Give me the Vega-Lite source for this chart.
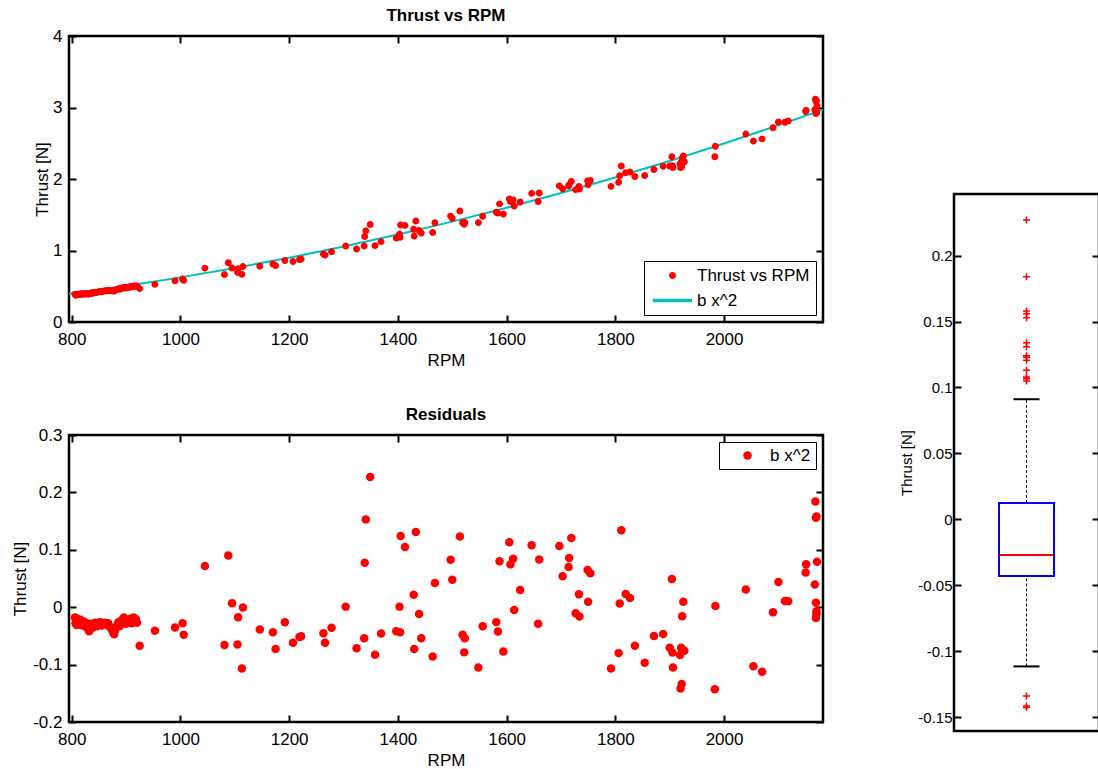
{
  "$schema": "https://vega.github.io/schema/vega-lite/v6.json",
  "background": "white",
  "padding": {"left": 10, "top": 5, "right": 0, "bottom": 0},
  "config": {
    "font": "Liberation Sans",
    "view": {"stroke": "black", "strokeWidth": 2.5},
    "axis": {"domain": false, "grid": false, "tickColor": "black", "tickWidth": 2, "tickSize": -7, "labelFontSize": 17, "labelColor": "black", "labelPadding": 16, "titleFontSize": 17, "titleFontWeight": "normal", "titleColor": "black", "titlePadding": 5},
    "title": {"fontSize": 17, "fontWeight": "bold", "color": "black", "anchor": "middle", "baseline": "alphabetic", "offset": 2},
    "legend": {"strokeColor": "black", "fillColor": "white", "labelFontSize": 17, "labelColor": "black", "cornerRadius": 0}
  },
  "datasets": {
    "pts": [
      {"rpm":806,"thrust":0.387,"res":-0.018},{"rpm":807,"thrust":0.378,"res":-0.028},{"rpm":808,"thrust":0.385,"res":-0.022},{"rpm":809,"thrust":0.377,"res":-0.031},{"rpm":810,"thrust":0.389,"res":-0.020},{"rpm":812,"thrust":0.385,"res":-0.026},{"rpm":814,"thrust":0.384,"res":-0.030},{"rpm":816,"thrust":0.394,"res":-0.022},{"rpm":818,"thrust":0.391,"res":-0.027},{"rpm":820,"thrust":0.388,"res":-0.032},{"rpm":822,"thrust":0.397,"res":-0.025},{"rpm":824,"thrust":0.394,"res":-0.030},{"rpm":826,"thrust":0.392,"res":-0.034},{"rpm":828,"thrust":0.400,"res":-0.028},{"rpm":830,"thrust":0.392,"res":-0.038},{"rpm":832,"thrust":0.390,"res":-0.042},{"rpm":834,"thrust":0.401,"res":-0.033},{"rpm":836,"thrust":0.407,"res":-0.029},{"rpm":838,"thrust":0.402,"res":-0.036},{"rpm":840,"thrust":0.409,"res":-0.031},{"rpm":843,"thrust":0.416,"res":-0.027},{"rpm":846,"thrust":0.414,"res":-0.033},{"rpm":849,"thrust":0.420,"res":-0.030},{"rpm":852,"thrust":0.427,"res":-0.026},{"rpm":855,"thrust":0.424,"res":-0.032},{"rpm":858,"thrust":0.430,"res":-0.029},{"rpm":861,"thrust":0.436,"res":-0.027},{"rpm":864,"thrust":0.435,"res":-0.031},{"rpm":867,"thrust":0.441,"res":-0.028},{"rpm":870,"thrust":0.438,"res":-0.034},{"rpm":873,"thrust":0.438,"res":-0.038},{"rpm":876,"thrust":0.435,"res":-0.044},{"rpm":878,"thrust":0.434,"res":-0.047},{"rpm":880,"thrust":0.443,"res":-0.040},{"rpm":882,"thrust":0.450,"res":-0.035},{"rpm":884,"thrust":0.458,"res":-0.030},{"rpm":886,"thrust":0.464,"res":-0.026},{"rpm":888,"thrust":0.459,"res":-0.033},{"rpm":890,"thrust":0.470,"res":-0.024},{"rpm":892,"thrust":0.469,"res":-0.028},{"rpm":894,"thrust":0.478,"res":-0.021},{"rpm":896,"thrust":0.483,"res":-0.018},{"rpm":898,"thrust":0.478,"res":-0.025},{"rpm":900,"thrust":0.476,"res":-0.029},{"rpm":902,"thrust":0.486,"res":-0.022},{"rpm":904,"thrust":0.483,"res":-0.027},{"rpm":906,"thrust":0.488,"res":-0.024},{"rpm":908,"thrust":0.495,"res":-0.020},{"rpm":910,"thrust":0.489,"res":-0.028},{"rpm":912,"thrust":0.496,"res":-0.023},{"rpm":914,"thrust":0.503,"res":-0.018},{"rpm":916,"thrust":0.499,"res":-0.025},{"rpm":918,"thrust":0.505,"res":-0.021},{"rpm":920,"thrust":0.501,"res":-0.027},
      {"rpm":925,"thrust":0.467,"res":-0.067},{"rpm":953,"thrust":0.526,"res":-0.041},{"rpm":990,"thrust":0.576,"res":-0.0355},{"rpm":1004,"thrust":0.601,"res":-0.028},{"rpm":1006,"thrust":0.584,"res":-0.048},{"rpm":1045,"thrust":0.753,"res":0.0717},{"rpm":1088,"thrust":0.829,"res":0.090},{"rpm":1095,"thrust":0.755,"res":0.007},{"rpm":1115,"thrust":0.775,"res":-0.0006},{"rpm":1106,"thrust":0.746,"res":-0.0175},{"rpm":1081,"thrust":0.663,"res":-0.066},{"rpm":1105,"thrust":0.697,"res":-0.065},{"rpm":1113,"thrust":0.666,"res":-0.107},{"rpm":1146,"thrust":0.781,"res":-0.039},{"rpm":1170,"thrust":0.810,"res":-0.0437},{"rpm":1192,"thrust":0.860,"res":-0.0262},{"rpm":1175,"thrust":0.789,"res":-0.073},{"rpm":1207,"thrust":0.847,"res":-0.062},{"rpm":1219,"thrust":0.875,"res":-0.052},{"rpm":1222,"thrust":0.881,"res":-0.0507},{"rpm":1263,"thrust":0.950,"res":-0.0455},{"rpm":1278,"thrust":0.983,"res":-0.036},{"rpm":1266,"thrust":0.938,"res":-0.062},{"rpm":1304,"thrust":1.062,"res":0.001},{"rpm":1341,"thrust":1.275,"res":0.153},{"rpm":1349,"thrust":1.363,"res":0.227},{"rpm":1339,"thrust":1.196,"res":0.0775},{"rpm":1324,"thrust":1.022,"res":-0.0717},{"rpm":1338,"thrust":1.063,"res":-0.054},{"rpm":1358,"thrust":1.068,"res":-0.083},{"rpm":1369,"thrust":1.124,"res":-0.046},{"rpm":1397,"thrust":1.176,"res":-0.042},{"rpm":1404,"thrust":1.186,"res":-0.0437},{"rpm":1405,"thrust":1.356,"res":0.124},{"rpm":1413,"thrust":1.351,"res":0.105},{"rpm":1433,"thrust":1.412,"res":0.131},{"rpm":1403,"thrust":1.229,"res":0.001},{"rpm":1429,"thrust":1.296,"res":0.0216},{"rpm":1439,"thrust":1.280,"res":-0.0117},{"rpm":1443,"thrust":1.245,"res":-0.054},{"rpm":1430,"thrust":1.203,"res":-0.073},{"rpm":1464,"thrust":1.251,"res":-0.086},{"rpm":1468,"thrust":1.387,"res":0.042},{"rpm":1514,"thrust":1.553,"res":0.123},{"rpm":1497,"thrust":1.481,"res":0.0828},{"rpm":1500,"thrust":1.452,"res":0.0478},{"rpm":1519,"thrust":1.392,"res":-0.048},{"rpm":1523,"thrust":1.393,"res":-0.054},{"rpm":1522,"thrust":1.367,"res":-0.0787},{"rpm":1548,"thrust":1.390,"res":-0.105},{"rpm":1556,"thrust":1.478,"res":-0.033},{"rpm":1581,"thrust":1.534,"res":-0.026},{"rpm":1584,"thrust":1.523,"res":-0.0425},{"rpm":1594,"thrust":1.509,"res":-0.077},{"rpm":1587,"thrust":1.652,"res":0.080},{"rpm":1605,"thrust":1.720,"res":0.113},{"rpm":1612,"thrust":1.706,"res":0.0845},{"rpm":1607,"thrust":1.686,"res":0.0746},{"rpm":1625,"thrust":1.678,"res":0.030},{"rpm":1614,"thrust":1.621,"res":-0.005},{"rpm":1646,"thrust":1.799,"res":0.108},{"rpm":1660,"thrust":1.803,"res":0.083},{"rpm":1658,"thrust":1.686,"res":-0.029},{"rpm":1697,"thrust":1.904,"res":0.1066},{"rpm":1719,"thrust":1.965,"res":0.1206},{"rpm":1715,"thrust":1.921,"res":0.0857},{"rpm":1714,"thrust":1.903,"res":0.070},{"rpm":1703,"thrust":1.864,"res":0.054},{"rpm":1749,"thrust":1.974,"res":0.065},{"rpm":1754,"thrust":1.979,"res":0.059},{"rpm":1733,"thrust":1.897,"res":0.0227},{"rpm":1750,"thrust":1.920,"res":0.0093},{"rpm":1727,"thrust":1.851,"res":-0.0105},{"rpm":1734,"thrust":1.860,"res":-0.0163},{"rpm":1811,"thrust":2.181,"res":0.134},{"rpm":1808,"thrust":2.046,"res":0.0064},{"rpm":1819,"thrust":2.088,"res":0.023},{"rpm":1827,"thrust":2.099,"res":0.016},{"rpm":1806,"thrust":1.955,"res":-0.080},{"rpm":1792,"thrust":1.897,"res":-0.1066},{"rpm":1836,"thrust":2.036,"res":-0.067},{"rpm":1854,"thrust":2.048,"res":-0.0967},{"rpm":1871,"thrust":2.134,"res":-0.050},{"rpm":1888,"thrust":2.178,"res":-0.0466},{"rpm":1904,"thrust":2.311,"res":0.049},{"rpm":1900,"thrust":2.182,"res":-0.0705},{"rpm":1905,"thrust":2.186,"res":-0.079},{"rpm":1906,"thrust":2.162,"res":-0.105},{"rpm":1921,"thrust":2.232,"res":-0.0705},{"rpm":1927,"thrust":2.241,"res":-0.0758},{"rpm":1919,"thrust":2.215,"res":-0.0833},{"rpm":1925,"thrust":2.322,"res":0.0093},{"rpm":1923,"thrust":2.292,"res":-0.0157},{"rpm":1922,"thrust":2.171,"res":-0.134},{"rpm":1920,"thrust":2.159,"res":-0.1416},{"rpm":1984,"thrust":2.459,"res":0.0023},{"rpm":1983,"thrust":2.311,"res":-0.1428},{"rpm":2040,"thrust":2.628,"res":0.031},{"rpm":2054,"thrust":2.530,"res":-0.103},{"rpm":2070,"thrust":2.561,"res":-0.1125},{"rpm":2090,"thrust":2.717,"res":-0.0087},{"rpm":2100,"thrust":2.796,"res":0.0437},{"rpm":2112,"thrust":2.794,"res":0.011},{"rpm":2118,"thrust":2.810,"res":0.0105},{"rpm":2151,"thrust":2.962,"res":0.075},{"rpm":2150,"thrust":2.945,"res":0.0606},{"rpm":2168,"thrust":3.117,"res":0.184},{"rpm":2170,"thrust":3.096,"res":0.158},{"rpm":2169,"thrust":3.092,"res":0.156},{"rpm":2171,"thrust":3.020,"res":0.079},{"rpm":2167,"thrust":2.970,"res":0.0396},{"rpm":2169,"thrust":2.943,"res":0.0076},{"rpm":2170,"thrust":2.931,"res":-0.007},{"rpm":2169,"thrust":2.917,"res":-0.0186},{"rpm":2170,"thrust":2.927,"res":-0.0117}
    ],
    "fit": [
      {"rpm":795,"fit":0.3944},{"rpm":850,"fit":0.4508},{"rpm":900,"fit":0.5054},{"rpm":950,"fit":0.5632},{"rpm":1000,"fit":0.624},{"rpm":1100,"fit":0.755},{"rpm":1200,"fit":0.8986},{"rpm":1300,"fit":1.0546},{"rpm":1400,"fit":1.223},{"rpm":1500,"fit":1.404},{"rpm":1600,"fit":1.5974},{"rpm":1700,"fit":1.8034},{"rpm":1800,"fit":2.0218},{"rpm":1900,"fit":2.2526},{"rpm":2000,"fit":2.496},{"rpm":2100,"fit":2.7518},{"rpm":2182,"fit":2.9709}
    ],
    "box": [
      {"group":"1","lo":-0.1116,"q1":-0.043,"median":-0.0271,"q3":0.0124,"hi":0.0911}
    ]
  },
  "resolve": {"scale": {"x": "independent", "y": "independent", "color": "independent", "shape": "independent", "stroke": "independent"}, "legend": {"color": "independent", "shape": "independent", "stroke": "independent"}},
  "spacing": 69,
  "hconcat": [
    {
      "resolve": {"scale": {"x": "independent", "y": "independent", "color": "independent", "shape": "independent", "stroke": "independent"}, "legend": {"color": "independent", "shape": "independent", "stroke": "independent"}},
      "spacing": 34,
      "vconcat": [
        {
          "title": {"text": "Thrust vs RPM"},
          "width": 754,
          "height": 286,
          "resolve": {"axis": {"x": "independent", "y": "independent"}},
          "layer": [
            {
              "data": {"name": "fit"},
              "mark": {"type": "line", "color": "#00bfbf", "strokeWidth": 2, "interpolate": "monotone"},
              "encoding": {
                "x": {"field": "rpm", "type": "quantitative", "scale": {"domain": [795, 2182], "nice": false, "zero": false},
                      "axis": {"orient": "top", "values": [800, 1000, 1200, 1400, 1600, 1800, 2000], "labels": false, "title": null}},
                "y": {"field": "fit", "type": "quantitative", "scale": {"domain": [0, 4], "nice": false},
                      "axis": {"orient": "right", "values": [0, 1, 2, 3, 4], "labels": false, "title": null}}
              }
            },
            {
              "data": {"name": "pts"},
              "mark": {"type": "point", "filled": false, "strokeWidth": 3.5, "opacity": 1, "size": 12},
              "encoding": {
                "x": {"field": "rpm", "type": "quantitative",
                      "axis": {"orient": "bottom", "values": [800, 1000, 1200, 1400, 1600, 1800, 2000], "format": "d", "title": "RPM"}},
                "y": {"field": "thrust", "type": "quantitative",
                      "axis": {"orient": "left", "values": [0, 1, 2, 3, 4], "format": "d", "labelPadding": 14, "titlePadding": 1, "title": "Thrust [N]"}},
                "stroke": {"datum": "Thrust vs RPM", "type": "nominal",
                           "scale": {"domain": ["Thrust vs RPM", "b x^2"], "range": ["#ff0000", "#00bfbf"]},
                           "legend": {"title": null, "orient": "bottom-right", "offset": 7, "padding": 6, "symbolSize": 12, "symbolStrokeWidth": 3.5, "symbolOffset": 14, "labelOffset": 16, "rowPadding": 6, "encode": {"legend": {"update": {"strokeWidth": {"value": 2}}}}}},
                "shape": {"datum": "Thrust vs RPM", "type": "nominal",
                          "scale": {"domain": ["Thrust vs RPM", "b x^2"], "range": ["circle", "M-11.3,0H11.3"]},
                          "legend": {"title": null, "orient": "bottom-right", "offset": 7, "padding": 6, "symbolSize": 12, "symbolStrokeWidth": 3.5, "symbolOffset": 14, "labelOffset": 16, "rowPadding": 6, "encode": {"legend": {"update": {"strokeWidth": {"value": 2}}}}}}
              }
            }
          ]
        },
        {
          "title": {"text": "Residuals"},
          "width": 754,
          "height": 287,
          "resolve": {"axis": {"x": "independent", "y": "independent"}},
          "layer": [
            {
              "data": {"name": "pts"},
              "mark": {"type": "point", "filled": false, "opacity": 0},
              "encoding": {
                "x": {"field": "rpm", "type": "quantitative", "scale": {"domain": [795, 2182], "nice": false, "zero": false},
                      "axis": {"orient": "top", "values": [800, 1000, 1200, 1400, 1600, 1800, 2000], "labels": false, "title": null}},
                "y": {"field": "res", "type": "quantitative", "scale": {"domain": [-0.2, 0.3], "nice": false, "zero": false},
                      "axis": {"orient": "right", "values": [-0.2, -0.1, 0, 0.1, 0.2, 0.3], "labels": false, "title": null}}
              }
            },
            {
              "data": {"name": "pts"},
              "mark": {"type": "point", "filled": true, "opacity": 1, "size": 72},
              "encoding": {
                "x": {"field": "rpm", "type": "quantitative",
                      "axis": {"orient": "bottom", "values": [800, 1000, 1200, 1400, 1600, 1800, 2000], "format": "d", "title": "RPM"}},
                "y": {"field": "res", "type": "quantitative",
                      "axis": {"orient": "left", "values": [-0.2, -0.1, 0, 0.1, 0.2, 0.3], "format": "~g", "labelExpr": "replace(datum.label, '\u2212', '-')", "labelPadding": 14, "titlePadding": 3, "title": "Thrust [N]"}},
                "color": {"datum": "b x^2", "type": "nominal", "scale": {"domain": ["b x^2"], "range": ["#ff0000"]},
                          "legend": {"title": null, "orient": "top-right", "offset": 7, "padding": 5, "symbolSize": 72, "symbolType": "circle", "symbolOffset": 15, "labelOffset": 14,
                                     "encode": {"legend": {"update": {"strokeWidth": {"value": 2}}}}}}
              }
            }
          ]
        }
      ]
    },
    {
      "resolve": {"scale": {"x": "independent", "y": "independent"}},
      "spacing": 0,
      "vconcat": [
        {
          "width": 145,
          "height": 156,
          "view": {"stroke": null},
          "data": {"values": []},
          "mark": "point"
        },
        {
          "width": 145,
          "height": 537,
          "resolve": {"axis": {"y": "independent"}},
          "layer": [
            {
              "data": {"name": "box"},
              "mark": {"type": "rule", "color": "black", "strokeWidth": 1, "strokeDash": [3, 2], "opacity": 1},
              "encoding": {
                "x": {"field": "group", "type": "nominal", "scale": {"paddingInner": 0, "paddingOuter": 0}, "axis": null},
                "y": {"field": "lo", "type": "quantitative", "scale": {"domain": [-0.1606, 0.2468], "nice": false, "zero": false},
                      "axis": {"orient": "left", "values": [-0.15, -0.1, -0.05, 0, 0.05, 0.1, 0.15, 0.2], "format": "~g", "labelExpr": "replace(datum.label, '\u2212', '-')", "labelFontSize": 15, "labelPadding": 9, "title": "Thrust [N]", "titleFontSize": 15, "titlePadding": 3}},
                "y2": {"field": "q1"}
              }
            },
            {
              "data": {"name": "box"},
              "mark": {"type": "rule", "color": "black", "strokeWidth": 1, "strokeDash": [3, 2], "opacity": 1},
              "encoding": {
                "x": {"field": "group", "type": "nominal", "axis": null},
                "y": {"field": "q3", "type": "quantitative", "axis": null},
                "y2": {"field": "hi"}
              }
            },
            {
              "data": {"name": "box"},
              "mark": {"type": "tick", "color": "black", "thickness": 2, "size": 26, "opacity": 1},
              "encoding": {
                "x": {"field": "group", "type": "nominal", "axis": null},
                "y": {"field": "lo", "type": "quantitative", "axis": null}
              }
            },
            {
              "data": {"name": "box"},
              "mark": {"type": "tick", "color": "black", "thickness": 2, "size": 26, "opacity": 1},
              "encoding": {
                "x": {"field": "group", "type": "nominal", "axis": null},
                "y": {"field": "hi", "type": "quantitative", "axis": null}
              }
            },
            {
              "data": {"name": "box"},
              "mark": {"type": "bar", "fill": "white", "stroke": "#0000ff", "strokeWidth": 2, "width": 55, "opacity": 1},
              "encoding": {
                "x": {"field": "group", "type": "nominal", "axis": null},
                "y": {"field": "q1", "type": "quantitative", "axis": null},
                "y2": {"field": "q3"}
              }
            },
            {
              "data": {"name": "box"},
              "mark": {"type": "tick", "color": "#ff0000", "thickness": 2, "size": 54, "opacity": 1},
              "encoding": {
                "x": {"field": "group", "type": "nominal", "axis": null},
                "y": {"field": "median", "type": "quantitative", "axis": null}
              }
            },
            {
              "data": {"name": "pts"},
              "transform": [{"filter": "datum.res > 0.0955 || datum.res < -0.126"}],
              "mark": {"type": "point", "shape": "M-1,0H1M0,-1V1", "filled": false, "stroke": "#ff0000", "strokeWidth": 1.5, "size": 49, "opacity": 1},
              "encoding": {
                "x": {"datum": "1", "type": "nominal", "axis": null},
                "y": {"field": "res", "type": "quantitative",
                      "axis": {"orient": "right", "values": [-0.15, -0.1, -0.05, 0, 0.05, 0.1, 0.15, 0.2], "labels": false, "title": null}}
              }
            }
          ]
        }
      ]
    }
  ]
}
